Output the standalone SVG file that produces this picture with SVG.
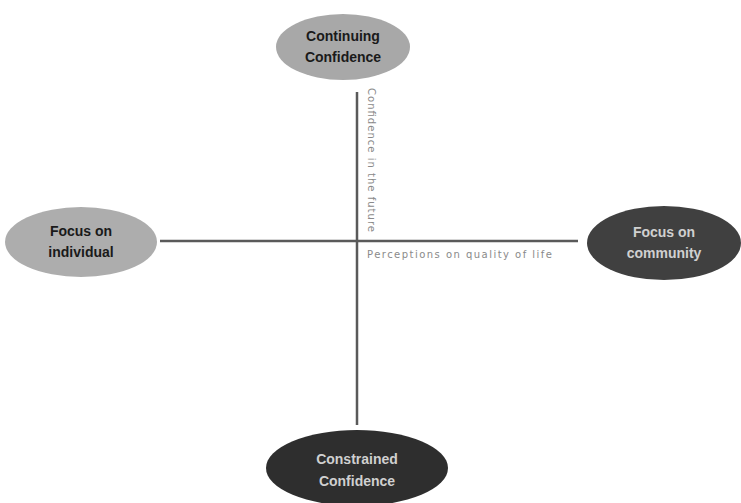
<svg xmlns="http://www.w3.org/2000/svg" width="741" height="503" viewBox="0 0 741 503">
<style>
.t{font-family:"Liberation Sans",Arial,sans-serif;font-size:14px;font-weight:bold;text-anchor:middle}
.dk{fill:#1a1a1a}
.lt{fill:#d0d0d0}
.ax{font-family:"DejaVu Sans",sans-serif;font-size:10px;fill:#8a8a8a}
</style>
<rect width="741" height="503" fill="#fff"/>
<g id="connectors" stroke="#5a5a5a" stroke-width="2.5">
<line x1="357" y1="92" x2="357" y2="425"/>
<line x1="160" y1="241" x2="578" y2="241"/>
</g>
<g id="top"><ellipse cx="343" cy="47" rx="67" ry="33" fill="#a8a8a8"/>
<text class="t dk" x="343" y="41">Continuing</text><text class="t dk" x="343" y="62">Confidence</text></g>
<g id="left"><ellipse cx="81" cy="242" rx="76" ry="35" fill="#adadad"/>
<text class="t dk" x="81" y="236">Focus on</text><text class="t dk" x="81" y="257">individual</text></g>
<g id="right"><ellipse cx="664" cy="243" rx="77" ry="37" fill="#404040"/>
<text class="t lt" x="664" y="237">Focus on</text><text class="t lt" x="664" y="258">community</text></g>
<g id="bottom"><ellipse cx="357" cy="468" rx="91" ry="38" fill="#2e2e2e"/>
<text class="t lt" x="357" y="464">Constrained</text><text class="t lt" x="357" y="486">Confidence</text></g>
<g id="labels">
<text class="ax" x="367" y="258" textLength="185" lengthAdjust="spacing">Perceptions on quality of life</text>
<text class="ax" transform="translate(368,88) rotate(90)" textLength="144" lengthAdjust="spacing">Confidence in the future</text>
</g>
</svg>
